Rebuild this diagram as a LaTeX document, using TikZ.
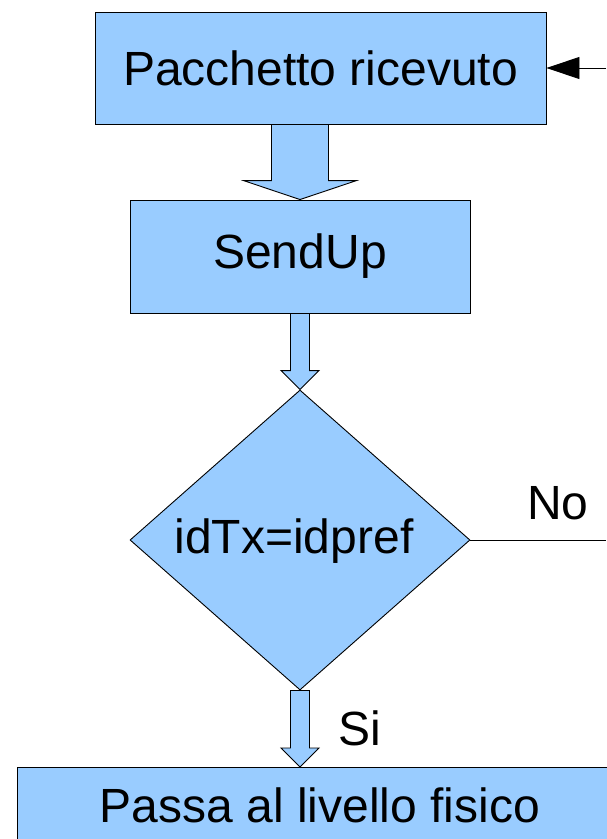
\documentclass[tikz,border=0pt]{standalone}
\usepackage{fontspec}
\setmainfont{Liberation Sans}
\usetikzlibrary{shapes.geometric,arrows.meta,calc}
\definecolor{boxblue}{RGB}{153,204,255}
\tikzset{
  box/.style={draw=black, fill=boxblue, line width=0.9pt, rectangle, inner sep=0pt},
  blk/.style={draw=black, fill=boxblue, line width=0.9pt, line join=miter},
  big/.style={font=\fontsize{48}{56}\selectfont},
  thin/.style={line width=0.9pt}
}
% vertical block arrow: start, end, shaft half width, head half width, head length
\newcommand\blockarr[5]{%
  \draw[blk] let \p1=(#1), \p2=(#2) in
    (\x1-#3pt,\y1) -- (\x1-#3pt,\y2+#5pt) -- (\x1-#4pt,\y2+#5pt) -- (\x1,\y2)
    -- (\x1+#4pt,\y2+#5pt) -- (\x1+#3pt,\y2+#5pt) -- (\x1+#3pt,\y1) -- cycle;}
\begin{document}
\begin{tikzpicture}[x=1pt,y=-1pt]
\useasboundingbox (0,0) rectangle (606,839);
\fill[white] (0,0) rectangle (606,839);

% process boxes
\node[box, minimum width=451pt, minimum height=112pt] (b1) at (320.5,68) {};
\node[big] (t1) at (b1.center) {Pacchetto ricevuto};
\node[box, minimum width=340pt, minimum height=113pt] (b2) at (300,256.5) {};
\node[big] (t2) at (b2.center) {SendUp};

% decision
\node[draw=black, fill=boxblue, line width=0.9pt, diamond, inner sep=0pt,
      minimum width=340pt, minimum height=300pt] (d) at (300,540) {};
\node[big] (dt) at (294,541) {idTx=idpref};

% output box, running off the page
\node[box, minimum width=700pt, minimum height=120pt, anchor=north west] (b3) at (17,767) {};
\node[big] (t3) at (320,805) {Passa al livello fisico};

% block arrows
\coordinate (a1s) at (b2.north |- b1.south);
\blockarr{a1s}{b2.north}{28.5}{56.5}{19}
\blockarr{b2.south}{d.north}{9.5}{19}{19}
\coordinate (a3e) at (d.south |- b3.north);
\blockarr{d.south}{a3e}{9.5}{19}{19}

% incoming loop arrow and "No" branch
\coordinate (loopin) at (606,68);
\draw[thin, -{Triangle[length=33pt,width=22pt]}] (loopin) -- (b1.east);
\coordinate (noend) at (606,540);
\draw[thin] (d.east) -- (noend);

% branch labels
\node[big] (no) at (558,503) {No};
\node[big] (si) at (360,728) {Si};
\end{tikzpicture}
\end{document}
